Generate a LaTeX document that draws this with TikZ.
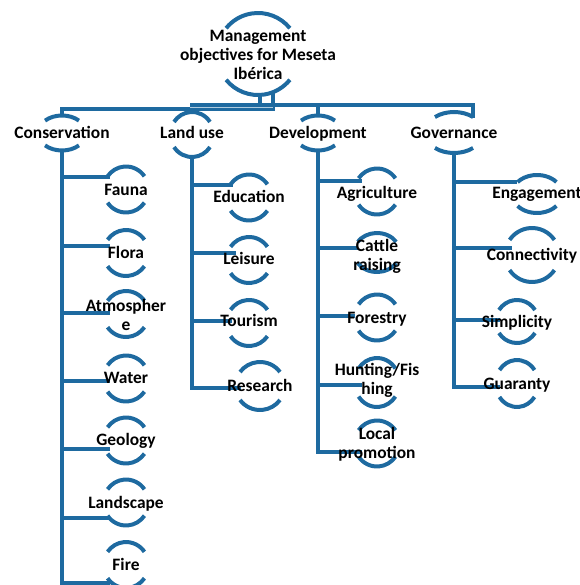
\documentclass[tikz,border=0pt]{standalone}
\usepackage{fontspec}
\setmainfont{Carlito}
\usetikzlibrary{calc}
\definecolor{sablue}{RGB}{30,106,160}
\pgfdeclarelayer{bg}
\pgfsetlayers{bg,main}
\tikzset{
  txt/.style={font=\bfseries\fontsize{17.4}{19}\selectfont, inner sep=0pt, text=black},
  lbl/.style={txt, text height=11pt, text depth=0pt},
  mlbl/.style={txt, align=center},
  conn/.style={draw=sablue, line width=4.8pt},
  arcst/.style={draw=sablue, line width=4pt},
}
% #1 node, #2 x radius, #3 y radius, #4 half angle, #5 vertical offset
\newcommand\brk[5]{%
  \draw[arcst] ($(#1.center)+(0,#5)$) ++(90-#4:#2pt and #3pt)
     arc[start angle=90-#4, end angle=90+#4, x radius=#2pt, y radius=#3pt];
  \draw[arcst] ($(#1.center)+(0,#5)$) ++(270-#4:#2pt and #3pt)
     arc[start angle=270-#4, end angle=270+#4, x radius=#2pt, y radius=#3pt];
}
\begin{document}
\begin{tikzpicture}[x=1pt,y=-1pt]
\useasboundingbox (0,0) rectangle (579,585);
% root
\node[mlbl] (root) at (258,56.5) {\strut Management\\objectives for Meseta\\Ibérica\strut};
% level 1
\node[lbl] (cons) at (62,133) {Conservation};
\node[lbl] (land) at (192,133) {Land use};
\node[lbl] (dev)  at (318,133) {Development};
\node[lbl] (gov)  at (454,133) {Governance};
% conservation
\node[lbl] (fauna)  at (126,190) {Fauna};
\node[lbl] (flora)  at (126,253) {Flora};
\node[mlbl] (atmos) at (126,317.5) {\strut Atmospher\\e\strut};
\node[lbl] (water)  at (126,378) {Water};
\node[lbl] (geol)   at (126,440) {Geology};
\node[lbl] (landsc) at (126,503) {Landscape};
\node[lbl] (fire)   at (126,565) {Fire};
% land use
\node[lbl] (edu)  at (249,197) {Education};
\node[lbl] (leis) at (249,259) {Leisure};
\node[lbl] (tour) at (249,321) {Tourism};
\node[lbl] (res)  at (260,386) {Research};
% development
\node[lbl] (agri)    at (377,193) {Agriculture};
\node[mlbl] (cattle) at (377,257.5) {\strut Cattle\\raising\strut};
\node[lbl] (forest)  at (377,318) {Forestry};
\node[mlbl] (hunt)   at (377,381.5) {\strut Hunting/Fis\\hing\strut};
\node[mlbl] (local)  at (377,445) {\strut Local\\promotion\strut};
% governance
\node[lbl] (eng)   at (537,193) {Engagement};
\node[lbl] (connv) at (532,255) {Connectivity};
\node[lbl] (simp)  at (517,322) {Simplicity};
\node[lbl] (guar)  at (517,384) {Guaranty};

% branch end points
\coordinate (fauna-b)  at (110,177);
\coordinate (flora-b)  at (110,246);
\coordinate (atmos-b)  at (110,313);
\coordinate (water-b)  at (110,381);
\coordinate (geol-b)   at (110,449);
\coordinate (landsc-b) at (110,518);
\coordinate (fire-b)   at (110,583);
\coordinate (edu-b)  at (233,185);
\coordinate (leis-b) at (236,253);
\coordinate (tour-b) at (232,321);
\coordinate (res-b)  at (241,388);
\coordinate (agri-b)   at (362,181);
\coordinate (cattle-b) at (358,248);
\coordinate (forest-b) at (355,316);
\coordinate (hunt-b)   at (362,385);
\coordinate (local-b)  at (362,452);
\coordinate (eng-b)   at (517,182);
\coordinate (connv-b) at (512,248);
\coordinate (simp-b)  at (500,320);
\coordinate (guar-b)  at (500,387);
% root connector points
\coordinate (rA) at (260,95);
\coordinate (jA) at (260,105);
\coordinate (rB) at (273,93);
\coordinate (jB) at (273,109);

\begin{pgfonlayer}{bg}
  % top connectors
  \draw[conn] (rA) -- (jA);
  \draw[conn] ([xshift=-2pt]land.center |- jA) -- ([xshift=19pt]gov.center |- jA) -- ([xshift=19pt,yshift=15pt]gov.center);
  \draw[conn] (dev.center |- jA) -- ([yshift=17pt]dev.center);
  \draw[conn] (rB) -- (jB) -- (cons.center |- jB) -- ([yshift=16pt]cons.center);
  \draw[draw=sablue!35!white, line width=0.8pt] ([xshift=-2pt]land.center |- 0,107) -- (rB |- 0,107);
  % conservation
  \draw[conn] ([yshift=-17pt]cons.center) -- (cons.center |- fire-b) -- (fire-b);
  \foreach \c in {fauna,flora,atmos,water,geol,landsc}
    \draw[conn] (cons.center |- \c-b) -- (\c-b);
  % land use
  \draw[conn] ([yshift=-22pt]land.center) -- (land.center |- res-b) -- (res-b);
  \foreach \c in {edu,leis,tour}
    \draw[conn] (land.center |- \c-b) -- (\c-b);
  % development
  \draw[conn] ([yshift=-17pt]dev.center) -- (dev.center |- local-b) -- (local-b);
  \foreach \c in {agri,cattle,forest,hunt}
    \draw[conn] (dev.center |- \c-b) -- (\c-b);
  % governance
  \draw[conn] ([yshift=-19pt]gov.center) -- (gov.center |- guar-b) -- (guar-b);
  \foreach \c in {eng,connv,simp}
    \draw[conn] (gov.center |- \c-b) -- (\c-b);

  % bracket arcs
  \brk{root}{41}{41}{51}{-2.5}
  \brk{cons}{24}{17.5}{45}{0}
  \brk{land}{21.7}{22.5}{56}{1.5}
  \brk{dev}{24}{17.5}{45}{0}
  \brk{gov}{29}{20.5}{41}{-0.5}
  \brk{fauna}{22.5}{23}{55}{-0.5}
  \brk{flora}{22.5}{23}{55}{0}
  \brk{atmos}{22.5}{23}{55}{-3.5}
  \brk{water}{22.5}{23}{55}{0.5}
  \brk{geol}{22.5}{23}{55}{0.5}
  \brk{landsc}{22.5}{23}{55}{-0.5}
  \brk{fire}{22.5}{23}{55}{0}
  \brk{edu}{22.5}{23}{55}{0.5}
  \brk{leis}{22.5}{23}{55}{1}
  \brk{tour}{22.5}{23}{55}{2}
  \brk{res}{24.6}{24}{54.3}{0}
  \brk{agri}{22.5}{23}{55}{-1.5}
  \brk{cattle}{23}{19.5}{57}{-5}
  \brk{forest}{22.5}{23}{55}{-0.5}
  \brk{hunt}{22.5}{24.5}{55}{1}
  \brk{local}{22.5}{23}{55}{-1.5}
  \brk{eng}{25}{19}{51}{1}
  \brk{connv}{27}{27}{56}{0}
  \brk{simp}{21.3}{21.5}{57.7}{-0.5}
  \brk{guar}{21.4}{23.5}{55}{-0.5}
\end{pgfonlayer}
\end{tikzpicture}
\end{document}
